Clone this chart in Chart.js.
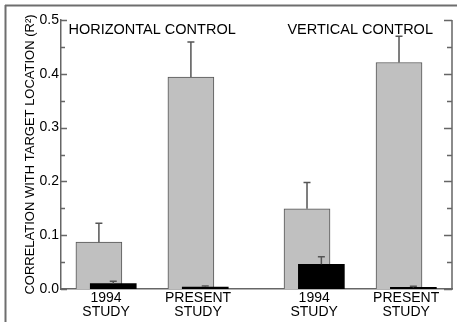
<!DOCTYPE html>
<html><head><meta charset="utf-8">
<script src="https://cdn.jsdelivr.net/npm/chart.js@4/dist/chart.umd.min.js"></script>
<style>html,body{margin:0;padding:0;background:#fff}#wrap{width:457px;height:322px;position:relative}</style>
</head><body><div id="wrap"><canvas id="c"></canvas></div>
<script>
const categories = [['1994','STUDY'],['PRESENT','STUDY'],['1994','STUDY'],['PRESENT','STUDY']];
const panelTitles = ['HORIZONTAL CONTROL','VERTICAL CONTROL'];
const grayValues  = [0.087, 0.394, 0.149, 0.421];
const grayErrors  = [0.122, 0.459, 0.198, 0.470];
const blackValues = [0.010, 0.0035, 0.046, 0.003];
const blackErrors = [0.0145, 0.0055, 0.060, 0.005];
const yAxisTitle = 'CORRELATION WITH TARGET LOCATION (R\u00B2)';

const FONT = '"Liberation Sans", Arial, sans-serif';
const GAP = 0.262, SHIFT = 0.078;
const pos = i => i + (i >= 2 ? GAP : 0);

const deco = {
  id: 'deco',
  beforeDraw(chart) {
    const ctx = chart.ctx;
    ctx.save();
    ctx.fillStyle = '#fff';
    ctx.fillRect(0, 0, chart.width, chart.height);
    ctx.strokeStyle = '#6e6e6e';
    ctx.lineWidth = 2;
    ctx.beginPath();
    ctx.moveTo(5, 5.5); ctx.lineTo(chart.width, 5.5);
    ctx.moveTo(5.5, 5); ctx.lineTo(5.5, chart.height);
    ctx.stroke();
    ctx.restore();
  },
  afterDatasetsDraw(chart) {
    const ctx = chart.ctx, ys = chart.scales.y;
    ctx.save();
    ctx.strokeStyle = '#555';
    ctx.lineWidth = 1.5;
    chart.data.datasets.forEach((ds, di) => {
      const meta = chart.getDatasetMeta(di);
      meta.data.forEach((el, j) => {
        const yt = ys.getPixelForValue(ds.errors[j]);
        ctx.beginPath();
        ctx.moveTo(el.x, el.y); ctx.lineTo(el.x, yt);
        ctx.moveTo(el.x - 3.5, yt); ctx.lineTo(el.x + 3.5, yt);
        ctx.stroke();
      });
    });
    ctx.restore();
  },
  afterDraw(chart) {
    const ctx = chart.ctx, ys = chart.scales.y, xs = chart.scales.x, a = chart.chartArea;
    ctx.save();
    ctx.strokeStyle = '#666';
    ctx.lineWidth = 1.5;
    ctx.beginPath();
    ctx.moveTo(a.right, ys.getPixelForValue(0.5)); ctx.lineTo(a.right, ys.getPixelForValue(0) + 0.75);
    for (let i = 0; i <= 10; i++) {
      const y = Math.round(ys.getPixelForValue(i * 0.05)) + 0.5;
      const major = i % 2 === 0;
      ctx.moveTo(a.left, y); ctx.lineTo(a.left + (major ? 6 : 4), y);
      ctx.moveTo(a.right, y); ctx.lineTo(a.right - (major ? 8 : 5), y);
    }
    ctx.stroke();
    ctx.fillStyle = '#000';
    ctx.font = '14.5px ' + FONT;
    ctx.textAlign = 'center';
    ctx.textBaseline = 'middle';
    panelTitles.forEach((t, k) => {
      const x = (xs.getPixelForValue(pos(2 * k)) + xs.getPixelForValue(pos(2 * k + 1))) / 2;
      ctx.fillText(t, x, a.top + 10);
    });
    ctx.restore();
  }
};

new Chart(document.getElementById('c'), {
  type: 'bar',
  data: {
    datasets: [
      {
        label: 'black', order: 0, errors: blackErrors,
        data: blackValues.map((v, i) => ({ x: pos(i) + SHIFT, y: v })),
        backgroundColor: '#000', borderColor: '#000', borderWidth: 0,
        barThickness: 46, grouped: false
      },
      {
        label: 'gray', order: 1, errors: grayErrors,
        data: grayValues.map((v, i) => ({ x: pos(i) - SHIFT, y: v })),
        backgroundColor: '#c0c0c0', borderColor: '#555', borderWidth: 1,
        barThickness: 46, grouped: false
      }
    ]
  },
  options: {
    responsive: true, maintainAspectRatio: false, animation: false,
    layout: { padding: { left: 15, top: 20, right: 5, bottom: 0 } },
    plugins: { legend: { display: false }, tooltip: { enabled: false } },
    scales: {
      x: {
        type: 'linear', min: -0.49, max: 3.76, offset: false,
        grid: { display: false, drawTicks: false },
        border: { display: true, color: '#666', width: 1.5 },
        afterBuildTicks: s => { s.ticks = categories.map((c, i) => ({ value: pos(i) })); },
        afterFit: s => { s.height = 33; },
        ticks: {
          autoSkip: false, maxRotation: 0, padding: 2, color: '#000',
          font: { family: FONT, size: 14, lineHeight: 1.0 },
          callback: (v, idx) => categories[idx]
        }
      },
      y: {
        min: 0, max: 0.5,
        grid: { display: false, drawTicks: false },
        border: { display: true, color: '#666', width: 1.5 },
        afterFit: s => { s.width = 46; },
        ticks: {
          stepSize: 0.1, padding: 2, color: '#000',
          font: { family: FONT, size: 14 },
          callback: v => v.toFixed(1)
        },
        title: {
          display: true, text: yAxisTitle, color: '#000',
          font: { family: FONT, size: 13 },
          padding: { top: 8, bottom: 0 }
        }
      }
    }
  },
  plugins: [deco]
});
</script>
</body></html>
